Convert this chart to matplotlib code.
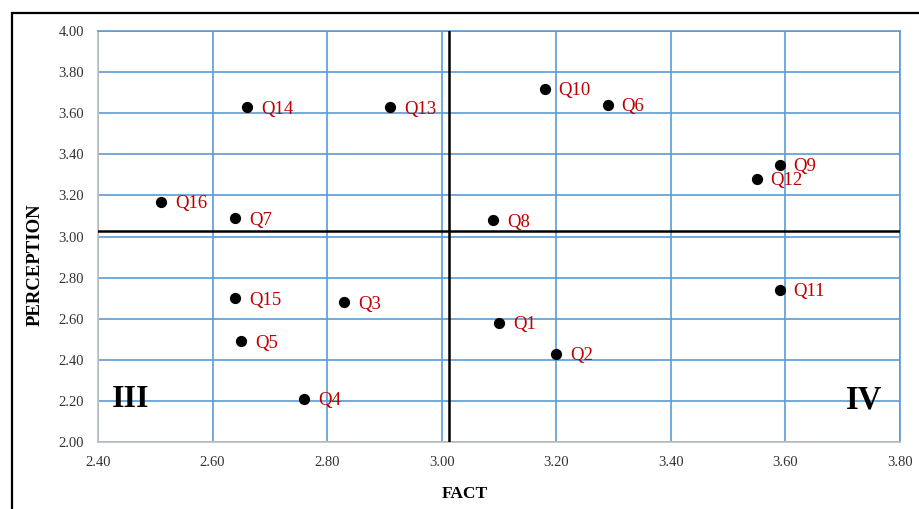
import matplotlib
matplotlib.use("Agg")
import matplotlib.pyplot as plt
from matplotlib.patches import Rectangle

labels = ["Q1", "Q2", "Q3", "Q4", "Q5", "Q6", "Q7", "Q8",
          "Q9", "Q10", "Q11", "Q12", "Q13", "Q14", "Q15", "Q16"]
fact = [3.10, 3.20, 2.83, 2.76, 2.65, 3.29, 2.64, 3.09,
        3.59, 3.18, 3.59, 3.55, 2.91, 2.66, 2.64, 2.51]
perception = [2.58, 2.43, 2.68, 2.21, 2.49, 3.64, 3.09, 3.08,
              3.35, 3.72, 2.74, 3.28, 3.63, 3.63, 2.70, 3.17]
fact_mean = 3.012
perception_mean = 3.026
x_ticks = [2.40, 2.60, 2.80, 3.00, 3.20, 3.40, 3.60, 3.80]
y_ticks = [2.00, 2.20, 2.40, 2.60, 2.80, 3.00, 3.20, 3.40, 3.60, 3.80, 4.00]

serif = ["Liberation Serif", "DejaVu Serif"]
plt.rcParams["font.family"] = serif

W, H = 920, 509
fig = plt.figure(figsize=(W / 100, H / 100), dpi=100)
ax = fig.add_axes([98 / W, 1 - 442 / H, (900 - 98) / W, (442 - 31) / H])

grid_c = "#5B9BD5"
ax.set_xlim(2.40, 3.80)
ax.set_ylim(2.00, 4.00)
ax.set_xticks(x_ticks)
ax.set_yticks(y_ticks)
ax.set_xticklabels([f"{v:.2f}" for v in x_ticks])
ax.set_yticklabels([f"{v:.2f}" for v in y_ticks])
ax.tick_params(length=0, labelsize=10.5, colors="#333333")
ax.tick_params(axis="y", pad=10)
ax.tick_params(axis="x", pad=10)
ax.grid(True, color=grid_c, linewidth=1.2)
ax.set_axisbelow(True)
for s in ["top", "right"]:
    ax.spines[s].set_color(grid_c)
    ax.spines[s].set_linewidth(1.2)
for s in ["left", "bottom"]:
    ax.spines[s].set_color("#BFBFBF")
    ax.spines[s].set_linewidth(1.2)

ax.axvline(fact_mean, color="black", linewidth=1.8, zorder=3)
ax.axhline(perception_mean, color="black", linewidth=1.8, zorder=3)

ax.scatter(fact, perception, s=50, color="black", zorder=4)
for lab, x, y in zip(labels, fact, perception):
    ax.annotate(lab, (x, y), xytext=(10, 0), textcoords="offset points",
                va="center_baseline", ha="left", color="#C00000", fontsize=13.5, zorder=5)

ax.text(2.457, 2.205, "III", fontsize=23, fontweight="bold", ha="center", va="center", zorder=5)
ax.text(3.738, 2.205, "IV", fontsize=23.5, fontweight="bold", ha="center", va="center", zorder=5)

fig.text(465 / W, 1 - 494 / H, "FACT", fontsize=12.5, fontweight="bold", ha="center", va="center")
fig.text(35 / W, 1 - 265 / H, "PERCEPTION", fontsize=13.5, fontweight="bold",
         ha="center", va="center", rotation=90)

top = 1 - 12.5 / H
fig.patches.append(Rectangle((12 / W, -0.2), 1.5, top + 0.2, transform=fig.transFigure,
                             fill=False, edgecolor="black", linewidth=1.6))

fig.savefig("out.png", dpi=100)
